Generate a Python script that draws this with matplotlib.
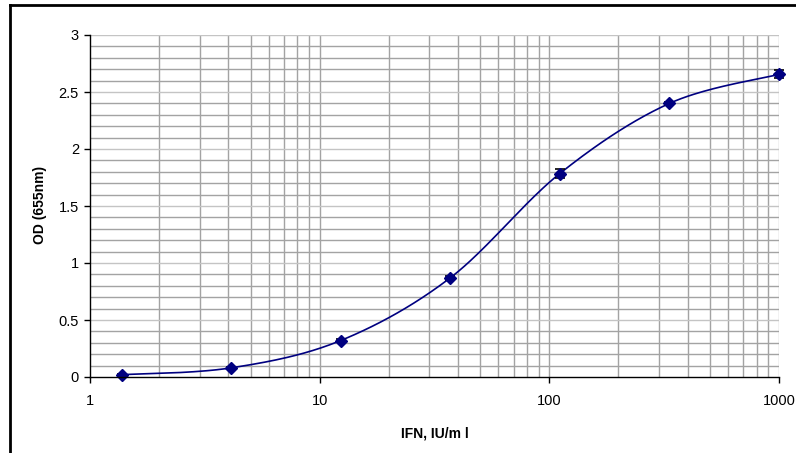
import numpy as np
import matplotlib
matplotlib.use("Agg")
import matplotlib.pyplot as plt
from matplotlib.lines import Line2D
from matplotlib.ticker import FixedLocator, NullLocator

plt.rcParams['font.family'] = ['Liberation Sans', 'DejaVu Sans']

# Data
ifn_conc = [1.372, 4.115, 12.35, 37.04, 111.1, 333.3, 1000.0]
od_values = [0.02, 0.08, 0.32, 0.87, 1.785, 2.40, 2.655]
od_err = [0.01, 0.01, 0.01, 0.02, 0.04, 0.01, 0.035]
x_ticks = [1, 10, 100, 1000]
x_tick_labels = ["1", "10", "100", "1000"]
y_ticks = [0, 0.5, 1, 1.5, 2, 2.5, 3]
y_tick_labels = ["0", "0.5", "1", "1.5", "2", "2.5", "3"]

W, H = 796, 453
fig = plt.figure(figsize=(W / 100, H / 100), dpi=100)
ax = fig.add_axes([90 / W, 1 - 377 / H, (779 - 90) / W, (377 - 35) / H])

ax.set_xscale('log')
ax.set_xlim(1, 1000)
ax.set_ylim(0, 3)

# Grid
minor_x = [m * 10 ** d for d in range(0, 3) for m in range(2, 10)]
for xv in minor_x + [10, 100]:
    ax.axvline(xv, color='#a3a3a3', lw=1.0, zorder=1)
ax.axvline(1000, color='#c0c0c0', lw=1.0, zorder=1)
for yv in np.arange(1, 31) / 10:
    is_major = abs(yv * 2 - round(yv * 2)) < 1e-6
    ax.axhline(yv, color='#c4c4c4' if is_major else '#a3a3a3', lw=1.0, zorder=1)

# Smoothed line (Excel-like Bezier smoothing computed from the data points)
def smooth_curve(xs, ys, n=40):
    px = np.log10(np.array(xs)) / 3.0 * (779 - 90)
    py = np.array(ys) / 3.0 * (377 - 35)
    P = np.column_stack([px, py])
    out = []
    for i in range(len(P) - 1):
        p0 = P[i - 1] if i > 0 else P[i]
        p1 = P[i]
        p2 = P[i + 1]
        p3 = P[i + 2] if i + 2 < len(P) else P[i + 1]
        c1 = p1 + (p2 - p0) / 6.0
        c2 = p2 - (p3 - p1) / 6.0
        t = np.linspace(0, 1, n)[:, None]
        seg = ((1 - t) ** 3) * p1 + 3 * ((1 - t) ** 2) * t * c1 + 3 * (1 - t) * t ** 2 * c2 + t ** 3 * p2
        out.append(seg if i == 0 else seg[1:])
    C = np.vstack(out)
    cx = 10 ** (C[:, 0] / (779 - 90) * 3.0)
    cy = C[:, 1] / (377 - 35) * 3.0
    return cx, cy

cx, cy = smooth_curve(ifn_conc, od_values)
ax.plot(cx, cy, color='#000080', lw=1.2, zorder=3, clip_on=False)
ax.errorbar(ifn_conc, od_values, yerr=od_err, fmt='none',
            ecolor='black', elinewidth=1, capsize=3.3, capthick=1.2,
            zorder=3.5, clip_on=False)
ax.plot(ifn_conc, od_values, 'D', color='#000080', ms=6, zorder=4, clip_on=False)

# Ticks
ax.xaxis.set_major_locator(FixedLocator(x_ticks))
ax.xaxis.set_minor_locator(NullLocator())
ax.set_xticks(x_ticks)
ax.set_xticklabels(x_tick_labels)
ax.set_yticks(y_ticks)
ax.set_yticklabels(y_tick_labels)
ax.tick_params(axis='both', direction='out', length=4, width=1, labelsize=10.5,
               color='black', labelcolor='black')
ax.tick_params(axis='x', pad=8)
ax.tick_params(axis='y', pad=4)

for s in ['top', 'right']:
    ax.spines[s].set_visible(False)
for s in ['left', 'bottom']:
    ax.spines[s].set_color('black')
    ax.spines[s].set_linewidth(1.0)
    ax.spines[s].set_zorder(5)

ax.set_xlabel('IFN, IU/m l', fontsize=10, fontweight='bold', va='center')
ax.set_ylabel('OD (655nm)', fontsize=10, fontweight='bold', va='center')
ax.xaxis.set_label_coords(0.5, -(433 - 377) / (377 - 35))
ax.yaxis.set_label_coords(-(90 - 40) / (779 - 90), (377 - 205) / (377 - 35))

# Outer frame (left and top edges visible)
fig.add_artist(Line2D([10 / W, 10 / W], [0, 1 - 5 / H], color='black', lw=2, transform=fig.transFigure))
fig.add_artist(Line2D([10 / W, 1], [1 - 5 / H, 1 - 5 / H], color='black', lw=2, transform=fig.transFigure))

fig.savefig('out.png', dpi=100)
